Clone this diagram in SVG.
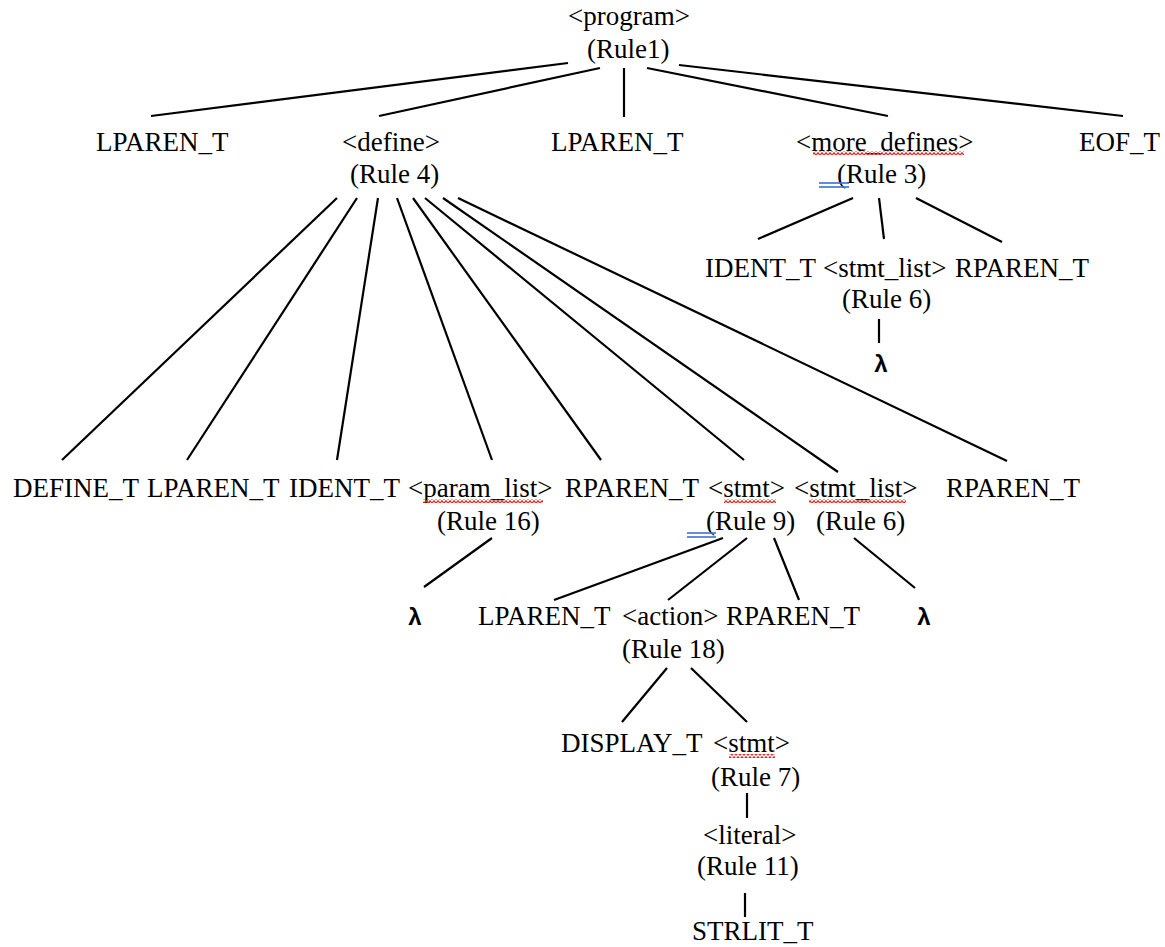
<svg xmlns="http://www.w3.org/2000/svg" width="1165" height="947" viewBox="0 0 1165 947">
<style>
text{font-family:"Liberation Serif","Times New Roman",serif;font-size:27px;fill:#000}
.c{text-anchor:middle;font-weight:bold;font-family:"Liberation Sans",Arial,sans-serif;font-size:24px}
.e line{stroke:#000;stroke-width:2.2;stroke-linecap:butt}
.dbl{stroke:#3a6fd6;stroke-width:1.6}
</style>
<defs>
<pattern id="sq" x="0" y="0" width="4" height="4" patternUnits="userSpaceOnUse">
<path d="M0 3 C1 3 1 1 2 1 C3 1 3 3 4 3" fill="none" stroke="#e3261e" stroke-width="1.3"/>
</pattern>
</defs>
<rect width="1165" height="947" fill="#fff"/>
<g id="connectors" class="e">
<line x1="568" y1="63" x2="151" y2="116"/>
<line x1="600" y1="68" x2="379" y2="116"/>
<line x1="624" y1="68" x2="624" y2="117"/>
<line x1="647" y1="68" x2="888" y2="116"/>
<line x1="679" y1="65" x2="1123" y2="116"/>
<line x1="337" y1="198" x2="62" y2="460"/>
<line x1="357" y1="198" x2="187" y2="460"/>
<line x1="378" y1="198" x2="337" y2="460"/>
<line x1="397" y1="198" x2="492" y2="460"/>
<line x1="413" y1="198" x2="601" y2="460"/>
<line x1="425" y1="198" x2="744" y2="460"/>
<line x1="443" y1="198" x2="838" y2="472"/>
<line x1="458" y1="198" x2="1007" y2="461"/>
<line x1="853" y1="198" x2="758" y2="239"/>
<line x1="879" y1="198" x2="884" y2="239"/>
<line x1="916" y1="198" x2="1002" y2="242"/>
<line x1="879" y1="319" x2="879" y2="343"/>
<line x1="492" y1="538" x2="424" y2="587"/>
<line x1="723" y1="538" x2="554" y2="600"/>
<line x1="747" y1="538" x2="668" y2="600"/>
<line x1="774" y1="538" x2="799" y2="600"/>
<line x1="854" y1="538" x2="915" y2="588"/>
<line x1="667" y1="668" x2="622" y2="722"/>
<line x1="691" y1="668" x2="747" y2="722"/>
<line x1="747" y1="793" x2="747" y2="818"/>
<line x1="745" y1="893" x2="745" y2="917"/>
</g>
<g id="n-program"><text x="568" y="25">&lt;program&gt;</text><text x="587" y="58">(Rule1)</text></g>
<g id="n-lparen1"><text x="96" y="151">LPAREN_T</text></g>
<g id="n-define"><text x="342" y="151">&lt;define&gt;</text><text x="350" y="183">(Rule 4)</text></g>
<g id="n-lparen2"><text x="551" y="151">LPAREN_T</text></g>
<g id="n-more-defines"><text x="796" y="151">&lt;more_defines&gt;</text><rect x="813" y="151" width="151" height="4" fill="url(#sq)"/><text x="837" y="183">(Rule 3)</text><line class="dbl" x1="819" y1="183" x2="849" y2="183"/><line class="dbl" x1="819" y1="187" x2="849" y2="187"/></g>
<g id="n-eof"><text x="1079" y="151">EOF_T</text></g>
<g id="n-ident2"><text x="705" y="277">IDENT_T</text></g>
<g id="n-stmt-list2"><text x="823" y="277">&lt;stmt_list&gt;</text><text x="842" y="308">(Rule 6)</text></g>
<g id="n-rparen3"><text x="955" y="277">RPAREN_T</text></g>
<g id="n-lambda1"><text class="c" x="881" y="372">λ</text></g>
<g id="n-define-t"><text x="13" y="497">DEFINE_T</text></g>
<g id="n-lparen3"><text x="147" y="497">LPAREN_T</text></g>
<g id="n-ident1"><text x="289" y="497">IDENT_T</text></g>
<g id="n-param-list"><text x="408" y="497">&lt;param_list&gt;</text><rect x="423" y="499" width="120" height="4" fill="url(#sq)"/><text x="437" y="530">(Rule 16)</text></g>
<g id="n-rparen1"><text x="565" y="497">RPAREN_T</text></g>
<g id="n-stmt1"><text x="708" y="497">&lt;stmt&gt;</text><rect x="724" y="499" width="52" height="4" fill="url(#sq)"/><text x="706" y="530">(Rule 9)</text><line class="dbl" x1="687" y1="533" x2="716" y2="533"/><line class="dbl" x1="687" y1="537" x2="716" y2="537"/></g>
<g id="n-stmt-list1"><text x="794" y="497">&lt;stmt_list&gt;</text><rect x="809" y="499" width="97" height="4" fill="url(#sq)"/><text x="816" y="530">(Rule 6)</text></g>
<g id="n-rparen2"><text x="946" y="497">RPAREN_T</text></g>
<g id="n-lambda2"><text class="c" x="415" y="625">λ</text></g>
<g id="n-lparen4"><text x="478" y="625">LPAREN_T</text></g>
<g id="n-action"><text x="622" y="625">&lt;action&gt;</text><text x="622" y="658">(Rule 18)</text></g>
<g id="n-rparen4"><text x="726" y="625">RPAREN_T</text></g>
<g id="n-lambda3"><text class="c" x="924" y="625">λ</text></g>
<g id="n-display"><text x="561" y="752">DISPLAY_T</text></g>
<g id="n-stmt2"><text x="713" y="752">&lt;stmt&gt;</text><rect x="729" y="754" width="46" height="4" fill="url(#sq)"/><text x="711" y="786">(Rule 7)</text></g>
<g id="n-literal"><text x="703" y="844">&lt;literal&gt;</text><text x="697" y="875">(Rule 11)</text></g>
<g id="n-strlit"><text x="692" y="940">STRLIT_T</text></g>
</svg>
